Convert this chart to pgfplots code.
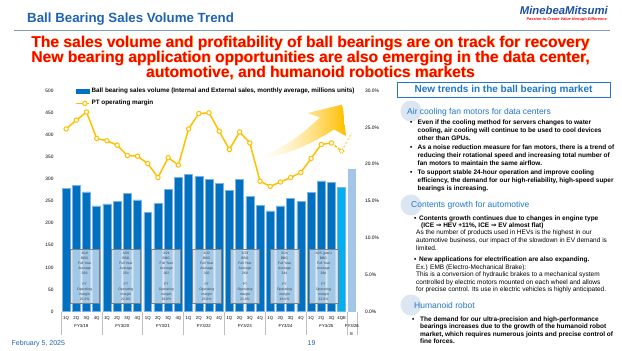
\documentclass[border=0pt]{standalone}
\usepackage{pgfplots}
\pgfplotsset{compat=1.18}
\usepackage{fontspec}
\setmainfont{Liberation Sans}
\newfontfamily\dejavu{DejaVu Sans}

\definecolor{barblue}{HTML}{0070C0}
\definecolor{baredge}{HTML}{7FB2E0}
\definecolor{barcyan}{HTML}{00B0F0}
\definecolor{barpale}{HTML}{A3C6E8}
\definecolor{gold}{HTML}{FFC000}
\definecolor{titleblue}{HTML}{1F64B4}
\definecolor{headblue}{HTML}{1F77C9}
\definecolor{circ}{HTML}{DCE6F2}
\definecolor{boxfill}{HTML}{CFE1F2}
\definecolor{boxedge}{HTML}{7F7F7F}
\definecolor{linegrey}{HTML}{7F9DC0}
\definecolor{logoblue}{HTML}{1F4FA0}

\newcommand\fs[2]{\fontsize{#1bp}{#2bp}\selectfont}
\newcommand\bl{\bfseries\fs{6.5}{8}}
\newcommand\rl{\fs{6.5}{8}}
\newcommand\hd{\fs{8.5}{9}}

\tikzset{fybox/.style={draw=boxedge, line width=0.9bp, fill=boxfill, fill opacity=0.78, text opacity=1, text=black!75, minimum width=29bp, minimum height=54bp, inner sep=0pt, align=center, font=\fs{3.4}{5.1}},
  tl/.style={anchor=base west, inner sep=0pt}}

\begin{document}
\begin{tikzpicture}[x=1bp,y=-1bp]
\useasboundingbox (0,0) rectangle (622,350);
\fill[white] (0,0) rectangle (622,350);

% ---- header
\node[tl, font=\bfseries\fs{13.3}{13.3}, text=titleblue] at (27,22) {Ball Bearing Sales Volume Trend};
\draw[linegrey, line width=0.8bp] (14,30) -- (610,30);
\node[anchor=base east, inner sep=0pt, font=\bfseries\itshape\fs{11.3}{11.3}, text=logoblue] at (608,14) {MinebeaMitsumi};
\node[anchor=base east, inner sep=0pt, font=\bfseries\itshape\fs{3.9}{4}, text=red] at (607,20.5) {Passion to Create Value through Difference};

\foreach \dx/\cc in {0.6/gold, 0/red}{
\node[anchor=base, inner sep=0pt, font=\bfseries\fs{15.6}{15.6}, text=\cc] at (310.5+\dx,47+\dx) {The sales volume and profitability of ball bearings are on track for recovery};
\node[anchor=base, inner sep=0pt, font=\bfseries\fs{15.6}{15.6}, text=\cc] at (310.5+\dx,62+\dx) {New bearing application opportunities are also emerging in the data center,};
\node[anchor=base, inner sep=0pt, font=\bfseries\fs{15.6}{15.6}, text=\cc] at (310.5+\dx,77+\dx) {automotive, and humanoid robotics markets};
}

% ---- bars axis
\begin{axis}[
  at={(61bp,-311.5bp)}, anchor=south west,
  scale only axis, width=296bp, height=220.8bp,
  xmin=-0.5, xmax=28.5, ymin=0, ymax=500,
  axis x line*=bottom, axis y line*=left,
  axis line style={draw=none},
  xtick=\empty,
  ytick={0,50,...,500},
  ytick style={draw=none}, major tick length=0pt,
  /pgf/number format/assume math mode=true,
  yticklabel style={font=\fs{4.8}{5}, xshift=-4bp},
  legend style={at={(0.047,1.021)}, anchor=north west, draw=none, fill=none,
    font=\bfseries\fs{6.35}{6.5}, inner sep=0pt, row sep=2bp, cells={anchor=west}},
  legend cell align=left,
]
\addplot[ybar, bar shift=0pt, bar width=0.78, fill=barblue, draw=baredge, line width=0.5bp,
  legend image code/.code={\fill[barblue] (0bp,-2.2bp) rectangle (13bp,2.2bp);}]
  coordinates {(0,278)(1,286)(2,271)(3,239)(4,244)(5,250)(6,268)(7,253)(8,224)(9,245)(10,276)(11,303)(12,311)(13,306)(14,299)(15,290)(16,275)(17,300)(18,261)(19,240)(20,228)(21,239)(22,256)(23,249)(24,270)(25,296)(26,292)};
\addlegendentry{Ball bearing sales volume (Internal and External sales, monthly average, millions units)}
\addplot[ybar, bar shift=0pt, bar width=0.78, fill=barcyan, draw=baredge, line width=0.5bp, forget plot]
  coordinates {(27,282)};
\addplot[ybar, bar shift=0pt, bar width=0.78, fill=barpale, draw=none, forget plot]
  coordinates {(28,322)};
\addlegendimage{legend image code/.code={\draw[gold, line width=1.5bp] (0bp,0bp) -- (13bp,0bp); \draw[gold, fill=white, line width=1bp] (9bp,0bp) circle (2.2bp);}}
\addlegendentry{PT operating margin}

\node[fybox] at (axis cs:1.81,80) {3/19\\BBG\\Full Year\\Average\\269\\[5.1bp]PT\\Operating\\margin\\25.4\%};
\node[fybox] at (axis cs:5.86,80) {3/20\\BBG\\Full Year\\Average\\254\\[5.1bp]PT\\Operating\\margin\\22.0\%};
\node[fybox] at (axis cs:9.82,80) {3/21\\BBG\\Full Year\\Average\\262\\[5.1bp]PT\\Operating\\margin\\19.8\%};
\node[fybox] at (axis cs:13.78,80) {3/22\\BBG\\Full Year\\Average\\302\\[5.1bp]PT\\Operating\\margin\\25.8\%};
\node[fybox] at (axis cs:17.53,80) {3/23\\BBG\\Full Year\\Average\\269\\[5.1bp]PT\\Operating\\margin\\21.8\%};
\node[fybox] at (axis cs:21.4,80) {3/24\\BBG\\Full Year\\Average\\244\\[5.1bp]PT\\Operating\\margin\\18.0\%};
\node[fybox] at (axis cs:25.22,80) {3/25 (plan)\\BBG\\Full Year\\Average\\284\\[5.1bp]PT\\Operating\\margin\\22.0\%};
\end{axis}

% ---- separators axis
\begin{axis}[
  at={(61bp,-311.5bp)}, anchor=south west,
  scale only axis, width=296bp, height=220.8bp,
  xmin=-0.5, xmax=28.5, ymin=0, ymax=1,
  axis x line*=bottom, axis y line=none,
  axis line style={draw=none},
  xtick={-0.5,3.5,7.5,11.5,15.5,19.5,23.5,27.5,28.5}, xticklabels={},
  ytick=\empty,
  major tick length=23.5bp, tick align=outside,
  xtick style={draw=black!25, line width=0.6bp},
]
\end{axis}

% ---- arrow (decoration, gradient built from strips)
\begin{scope}
\clip (254,157.5) .. controls (285,150) and (305,131) .. (320,117.5) -- (307.5,113) -- (342.5,104.5) -- (346,136) -- (334,129.5) .. controls (315,142) and (290,155) .. (256,159.5) -- cycle;
\foreach \i in {0,...,46}{
  \pgfmathsetmacro\p{min(1,1.02*((\i/46)^1.7))}
  \fill[gold, fill opacity=\p] (253+2*\i,100) rectangle (255.3+2*\i,162);
}
\end{scope}

% ---- margin line axis
\begin{axis}[
  at={(61bp,-311.5bp)}, anchor=south west,
  scale only axis, width=296bp, height=220.8bp,
  xmin=-0.5, xmax=28.5, ymin=0, ymax=30,
  axis x line*=bottom, axis y line*=right,
  axis line style={draw=none},
  major tick length=0pt,
  xtick style={draw=none}, ytick style={draw=none},
  xtick={0,...,28},
  xticklabels={1Q,2Q,3Q,4Q,1Q,2Q,3Q,4Q,1Q,2Q,3Q,4Q,1Q,2Q,3Q,4Q,1Q,2Q,3Q,4Q,1Q,2Q,3Q,4Q,1Q,2Q,3Q,4QE,{}},
  xticklabel style={font=\fs{4.3}{7.5}, anchor=north, inner sep=0pt, yshift=-4.5bp, align=center},
  extra x ticks={1.5,5.5,9.5,13.5,17.5,21.5,25.5,28},
  extra x tick labels={FY3/19,FY3/20,FY3/21,FY3/22,FY3/23,FY3/24,FY3/25,FY3/26\\E},
  extra x tick style={xticklabel style={yshift=-8.5bp}},
  ytick={0,5,...,30},
  /pgf/number format/assume math mode=true,
  yticklabel={\pgfmathprintnumber[fixed,fixed zerofill,precision=1]{\tick}\%},
  yticklabel style={font=\fs{4.9}{5}, anchor=west, xshift=4.5bp},
]
\addplot[gold, line width=1.5bp, dash pattern=on 2.5bp off 1.6bp] coordinates {(26,22.9)(27,21.8)};
\addplot[gold, line width=1.5bp, dash pattern=on 2.5bp off 1.6bp, opacity=0.45] coordinates {(27,21.8)(28,24.3)};
\addplot[gold, line width=1.5bp, mark=*, mark size=2.2bp, mark options={fill=white, draw=gold, line width=1bp, solid}]
  coordinates {(0,24.8)(1,26.0)(2,27.1)(3,23.5)(4,23.2)(5,22.6)(6,21.2)(7,21.1)(8,20.1)(9,18.2)(10,20.9)(11,19.9)(12,24.8)(13,26.9)(14,27.0)(15,24.5)(16,22.0)(17,24.4)(18,22.9)(19,17.7)(20,17.0)(21,17.6)(22,18.2)(23,18.9)(24,20.8)(25,22.7)(26,22.9)};
\addplot[only marks, mark=*, mark size=2.2bp, mark options={fill=white, draw=gold, line width=1bp, dash pattern=on 1.2bp off 0.9bp}]
  coordinates {(27,21.8)};
\end{axis}

% ---- right panel
\draw[headblue, line width=1bp] (397,82.7) rectangle (610,97.3);
\node[inner sep=0pt, font=\bfseries\fs{10}{10}, text=headblue] at (503.5,90.3) {New trends in the ball bearing market};

\fill[circ] (411,111) circle (10.5);
\fill[circ] (411,205) circle (10.5);
\fill[circ] (411,305) circle (10.5);

\node[tl, font=\hd, text=headblue] at (407,114) {Air cooling fan motors for data centers};
\node[tl, font=\bl] at (410,124.3) {\textbullet};
\node[tl, font=\bl] at (417.5,124.3) {Even if the cooling method for servers changes to water};
\node[tl, font=\bl] at (417.5,132.3) {cooling, air cooling will continue to be used to cool devices};
\node[tl, font=\bl] at (417.5,140.3) {other than GPUs.};
\node[tl, font=\bl] at (410,149.2) {\textbullet};
\node[tl, font=\bl] at (417.5,149.2) {As a noise reduction measure for fan motors, there is a trend of};
\node[tl, font=\bl] at (417.5,157.2) {reducing their rotational speed and increasing total number of};
\node[tl, font=\bl] at (417.5,165.2) {fan motors to maintain the same airflow.};
\node[tl, font=\bl] at (410,174.2) {\textbullet};
\node[tl, font=\bl] at (417.5,174.2) {To support stable 24-hour operation and improve cooling};
\node[tl, font=\bl] at (417.5,182.2) {efficiency, the demand for our high-reliability, high-speed super};
\node[tl, font=\bl] at (417.5,190.2) {bearings is increasing.};

\node[tl, font=\hd, text=headblue] at (411,207.7) {Contents growth for automotive};
\node[tl, font=\bl] at (414,220.2) {\textbullet};
\node[tl, font=\bl] at (419,220.2) {Contents growth continues due to changes in engine type};
\node[tl, font=\bl] at (421,227.4) {(ICE {\dejavu ⇒} HEV +11\%, ICE {\dejavu ⇒} EV almost flat)};
\node[tl, font=\rl] at (416,234.9) {As the number of products used in HEVs is the highest in our};
\node[tl, font=\rl] at (416,242.9) {automotive business, our impact of the slowdown in EV demand is};
\node[tl, font=\rl] at (416,250.5) {limited.};
\node[tl, font=\bl] at (414,261.5) {\textbullet};
\node[tl, font=\bl] at (419,261.5) {New applications for electrification are also expanding.};
\node[tl, font=\rl] at (416,269.2) {Ex.) EMB (Electro-Mechanical Brake):};
\node[tl, font=\rl] at (416,276.6) {This is a conversion of hydraulic brakes to a mechanical system};
\node[tl, font=\rl] at (416,284.2) {controlled by electric motors mounted on each wheel and allows};
\node[tl, font=\rl] at (416,291.6) {for precise control. Its use in electric vehicles is highly anticipated.};

\node[tl, font=\hd, text=headblue] at (414,308) {Humanoid robot};
\node[tl, font=\bl] at (412,321) {\textbullet};
\node[tl, font=\bl] at (420,321) {The demand for our ultra-precision and high-performance};
\node[tl, font=\bl] at (420,328.6) {bearings increases due to the growth of the humanoid robot};
\node[tl, font=\bl] at (420,336.1) {market, which requires numerous joints and precise control of};
\node[tl, font=\bl] at (420,343.6) {fine forces.};

% ---- footer
\node[tl, font=\fs{7}{7}, text=titleblue] at (11.5,345.5) {February 5, 2025};
\node[anchor=base, inner sep=0pt, font=\fs{7}{7}, text=titleblue] at (311.5,345.5) {19};
\end{tikzpicture}
\end{document}
